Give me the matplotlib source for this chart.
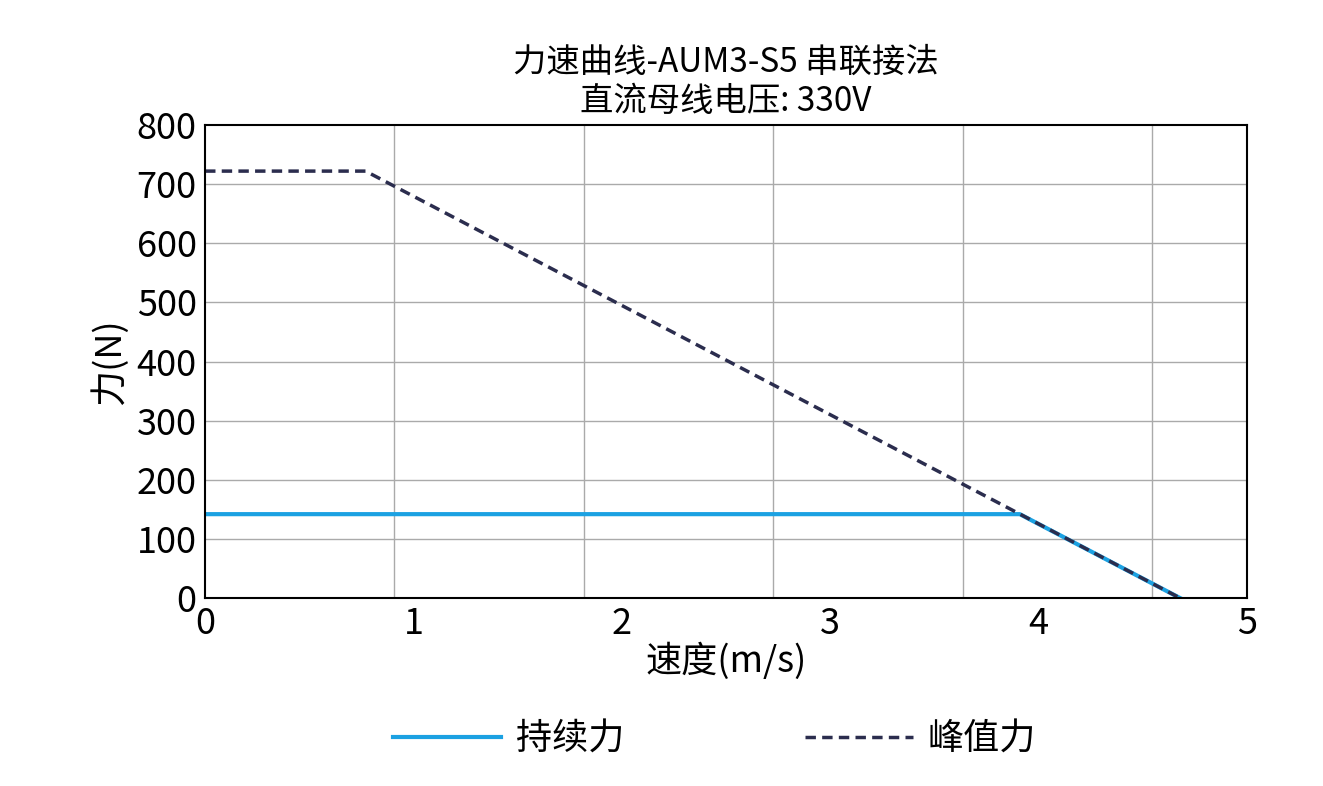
import matplotlib
matplotlib.use("Agg")
import matplotlib.pyplot as plt

plt.rcParams['font.family'] = ['Noto Sans CJK SC', 'DejaVu Sans']

cont_x = [0, 3.91, 4.68]
cont_y = [142, 142, 0]
peak_x = [0, 0.77, 4.68]
peak_y = [722, 722, 0]
xticks = [0, 1, 2, 3, 4, 5]
yticks = [0, 100, 200, 300, 400, 500, 600, 700, 800]

fig = plt.figure(figsize=(13.23, 7.86), dpi=100)
ax = fig.add_axes([0.155, 0.239, 0.7875, 0.602])
ax.set_xlim(0, 5)
ax.set_ylim(0, 800)
for k in range(1, 6):
    ax.axvline(k * 5 / 5.5, color='#aaaaaa', lw=1, zorder=0)
for v in yticks[1:-1]:
    ax.axhline(v, color='#aaaaaa', lw=1, zorder=0)
l1, = ax.plot(cont_x, cont_y, color='#1ba1e2', lw=3, label='持续力')
l2, = ax.plot(peak_x, peak_y, color='#2b2d4e', lw=2.5, ls=(0, (3, 1.8)), label='峰值力')
ax.set_xticks(xticks)
ax.set_yticks(yticks)
ax.tick_params(length=0, labelsize=26, pad=6)
for t in ax.get_xticklabels():
    t.set_x(t.get_position()[0])
for s in ax.spines.values():
    s.set_linewidth(1.5)
ax.set_xlabel('速度(m/s)', fontsize=26, labelpad=0)
ax.set_ylabel('力(N)', fontsize=26, labelpad=6)
ax.set_title('力速曲线-AUM3-S5 串联接法\n直流母线电压: 330V', fontsize=24, linespacing=1.15, pad=10)
fig.legend(handles=[l1, l2], loc='lower center', ncol=2, frameon=False,
           fontsize=26, bbox_to_anchor=(0.54, -0.005), columnspacing=5, handlelength=3.0,
           handletextpad=0.4)
fig.savefig('out.png')
